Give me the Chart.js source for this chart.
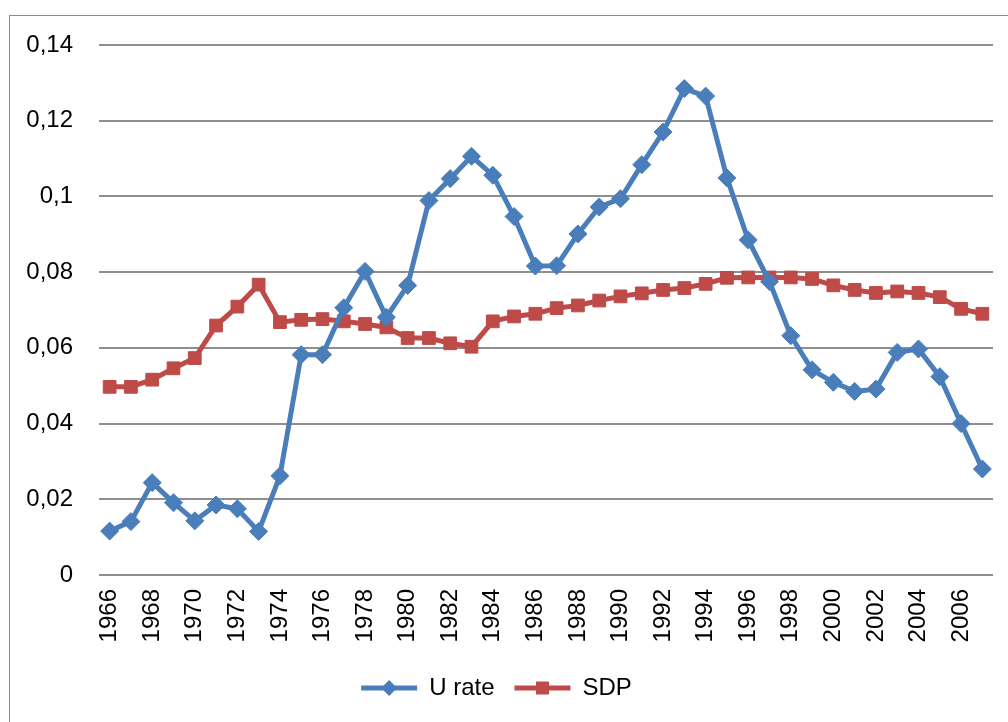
<!DOCTYPE html>
<html>
<head>
<meta charset="utf-8">
<script src="https://cdn.jsdelivr.net/npm/chart.js@4/dist/chart.umd.min.js"></script>
<style>
  html, body { margin: 0; padding: 0; background: #fff; overflow: hidden; }
  #frame { position: absolute; left: 9px; top: 15px; width: 1100px; height: 800px; border: 1px solid #8c8c8c; }
  #wrap { position: absolute; left: 0; top: 0; width: 1008px; height: 722px; }
</style>
</head>
<body>
<div id="frame"></div>
<div id="wrap"><canvas id="c" width="1008" height="722"></canvas></div>
<script>
const years = [1966,1967,1968,1969,1970,1971,1972,1973,1974,1975,1976,1977,1978,1979,1980,1981,1982,1983,1984,1985,1986,1987,1988,1989,1990,1991,1992,1993,1994,1995,1996,1997,1998,1999,2000,2001,2002,2003,2004,2005,2006,2007];
const uRate = [0.0116,0.0141,0.0244,0.0191,0.0143,0.0185,0.0175,0.0115,0.0262,0.0582,0.0582,0.0706,0.0802,0.0681,0.0765,0.0989,0.1047,0.1106,0.1056,0.0947,0.0816,0.0817,0.0901,0.0972,0.0994,0.1084,0.1170,0.1285,0.1265,0.1049,0.0885,0.0775,0.0632,0.0542,0.0509,0.0485,0.0491,0.0588,0.0597,0.0524,0.0400,0.0280];
const sdp = [0.0497,0.0497,0.0516,0.0546,0.0573,0.0659,0.0709,0.0767,0.0668,0.0674,0.0676,0.0670,0.0663,0.0654,0.0626,0.0626,0.0612,0.0603,0.0670,0.0683,0.0690,0.0705,0.0712,0.0725,0.0736,0.0744,0.0753,0.0758,0.0769,0.0785,0.0786,0.0786,0.0786,0.0782,0.0765,0.0753,0.0745,0.0749,0.0745,0.0734,0.0703,0.0690];
const yTicks = [0,0.02,0.04,0.06,0.08,0.1,0.12,0.14];
const seriesNames = ['U rate','SDP'];

const BLUE = '#4a7ebb', RED = '#be4b48';
const FONT = "'Liberation Sans', Arial, sans-serif";

const legendMarker = {
  id: 'legendMarker',
  afterDraw(chart) {
    const lg = chart.legend;
    if (!lg || !lg.legendHitBoxes) return;
    const ctx = chart.ctx;
    const bw = lg.options.labels.boxWidth;
    lg.legendHitBoxes.forEach((hb, i) => {
      const ds = chart.data.datasets[i];
      const cx = hb.left + bw / 2, cy = hb.top + hb.height / 2;
      ctx.save();
      ctx.fillStyle = ds.pointBackgroundColor;
      ctx.beginPath();
      if (ds.pointStyle === 'rectRot') {
        const r = 8;
        ctx.moveTo(cx, cy - r); ctx.lineTo(cx + r, cy); ctx.lineTo(cx, cy + r); ctx.lineTo(cx - r, cy); ctx.closePath();
      } else {
        const s = 6.5;
        ctx.rect(cx - s, cy - s, 2 * s, 2 * s);
      }
      ctx.fill();
      ctx.restore();
    });
  }
};

new Chart(document.getElementById('c'), {
  type: 'line',
  data: {
    labels: years,
    datasets: [
      { label: seriesNames[0], data: uRate, borderColor: BLUE, backgroundColor: BLUE, pointBackgroundColor: BLUE, pointBorderColor: BLUE,
        borderWidth: 5, pointStyle: 'rectRot', pointRadius: 9, pointBorderWidth: 1, tension: 0 },
      { label: seriesNames[1], data: sdp, borderColor: RED, backgroundColor: RED, pointBackgroundColor: RED, pointBorderColor: RED,
        borderWidth: 5, pointStyle: 'rect', pointRadius: 9, pointBorderWidth: 1, tension: 0 }
    ]
  },
  options: {
    responsive: false,
    animation: false,
    devicePixelRatio: 1,
    layout: { padding: { left: 0, right: 15, top: 45, bottom: 12 } },
    plugins: {
      tooltip: { enabled: false },
      legend: {
        position: 'bottom',
        labels: {
          font: { family: FONT, size: 24 },
          color: '#000',
          boxWidth: 56,
          boxHeight: 5,
          padding: 20,
          generateLabels(chart) {
            return chart.data.datasets.map((ds, i) => ({
              text: ds.label, fillStyle: ds.borderColor, strokeStyle: ds.borderColor, lineWidth: 0,
              hidden: false, datasetIndex: i, fontColor: '#000'
            }));
          }
        }
      }
    },
    scales: {
      x: {
        offset: true,
        grid: { display: false, drawTicks: false, offset: true },
        border: { display: false },
        ticks: {
          autoSkip: false, minRotation: 90, maxRotation: 90, padding: 14,
          color: '#000', font: { family: FONT, size: 24 },
          callback(v, i) { return i % 2 === 0 ? String(years[i]) : ''; }
        },
        afterFit(scale) { scale.height = 81; scale.paddingLeft = 0; scale.paddingRight = 0; }
      },
      y: {
        min: 0, max: 0.14,
        afterBuildTicks(scale) { scale.ticks = yTicks.map(v => ({ value: v })); },
        grid: { color: '#8e8e8e', lineWidth: 2, drawTicks: false },
        border: { display: false },
        ticks: {
          padding: 26, color: '#000', font: { family: FONT, size: 24 },
          callback(v) { return String(Math.round(v * 100) / 100).replace('.', ','); }
        },
        afterFit(scale) { scale.width = 99; }
      }
    }
  },
  plugins: [legendMarker]
});
</script>
</body>
</html>
